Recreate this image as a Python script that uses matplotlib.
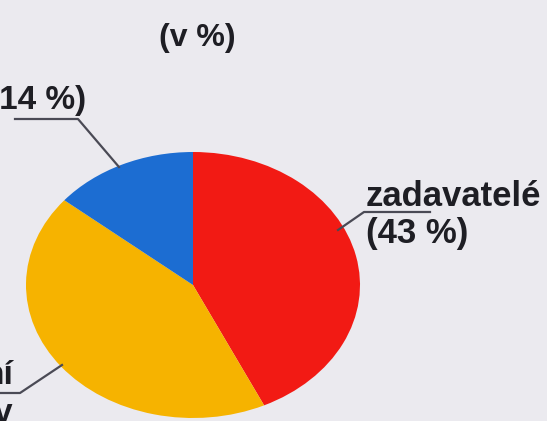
import matplotlib
matplotlib.use("Agg")
import matplotlib.pyplot as plt
import numpy as np

# Data
labels = ["zadavatelé", "ní", "ostatní"]
values = [43, 43, 14]
colors = ["#f21a14", "#f6b300", "#1c6dd2"]
title = "(v %)"

W, H = 547, 421
fig = plt.figure(figsize=(W / 100, H / 100), dpi=100)
bg = "#ebeaef"
fig.patch.set_facecolor(bg)

# Pie axes covering the ellipse bounding box (pixels)
cx, cy, rx, ry = 193, 285, 167, 133
pax = fig.add_axes([(cx - rx) / W, (H - (cy + ry)) / H, 2 * rx / W, 2 * ry / H])
pax.pie(values, colors=colors, startangle=90, counterclock=False, radius=1,
        wedgeprops=dict(linewidth=0))
pax.set_xlim(-1, 1)
pax.set_ylim(-1, 1)
pax.set_aspect("auto")
pax.axis("off")

# Overlay axes in pixel coordinates for text and leader lines
ax = fig.add_axes([0, 0, 1, 1], facecolor="none")
ax.set_xlim(0, W)
ax.set_ylim(H, 0)
ax.axis("off")

font = dict(family="Liberation Sans", fontweight="bold", color="#1e1e24")
fs = 24

ax.text(197, 38, title, ha="center", va="center", fontsize=fs - 1, **font)

lc = "#4a4a55"
# zadavatelé label
ax.text(366, 206, labels[0], ha="left", va="baseline", fontsize=fs + 1, **font)
ax.text(366, 233, f"({values[0]} %)", ha="left", va="center", fontsize=fs + 1, **font)
ax.plot([338, 364, 430], [230, 212, 212], color=lc, lw=1.6)

# blue label (cut off at left edge, as in the source)
ax.text(86, 101, f"({values[2]} %)", ha="right", va="center", fontsize=fs, **font)
ax.plot([15, 78, 119], [119, 119, 167], color=lc, lw=1.6)

# yellow label (cut off at edges, as in the source)
ax.text(13, 375, labels[1], ha="right", va="center", fontsize=fs, **font)
ax.text(13, 413, "v", ha="right", va="center", fontsize=fs, **font)
ax.plot([0, 20, 62], [393, 393, 365], color=lc, lw=1.6)

fig.savefig("out.png", dpi=100, facecolor=bg)
